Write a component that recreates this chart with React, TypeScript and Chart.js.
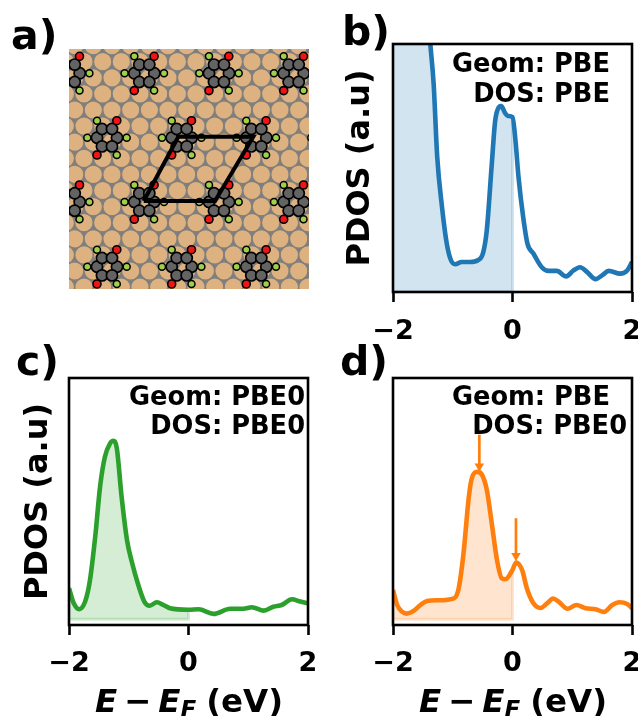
import React, { useEffect, useRef } from "react";
import { Chart, registerables } from "chart.js";

Chart.register(...registerables);

// ---- PDOS curves (energy in eV, PDOS as a fraction of the axis height) ----
const energyB = [-2, -1.7, -1.45, -1.375, -1.32, -1.26, -1.18, -1.1, -1.03, -0.96, -0.85, -0.71, -0.58, -0.49, -0.43, -0.35, -0.29, -0.23, -0.19, -0.12, -0.08, 0, 0.05, 0.1, 0.18, 0.25, 0.35, 0.49, 0.6, 0.74, 0.9, 1.02, 1.13, 1.25, 1.39, 1.5, 1.61, 1.8, 1.92, 2];
const pdosB = [4, 2.4, 1.25, 1.0, 0.84, 0.545, 0.343, 0.195, 0.128, 0.112, 0.121, 0.121, 0.128, 0.16, 0.25, 0.505, 0.69, 0.745, 0.75, 0.72, 0.71, 0.705, 0.61, 0.465, 0.3, 0.195, 0.155, 0.1, 0.085, 0.085, 0.063, 0.087, 0.1, 0.08, 0.052, 0.067, 0.085, 0.074, 0.087, 0.121];

const energyC = [-2, -1.92, -1.83, -1.73, -1.65, -1.56, -1.48, -1.4, -1.31, -1.26, -1.2, -1.12, -1.03, -0.95, -0.84, -0.74, -0.65, -0.53, -0.42, -0.31, 0, 0.17, 0.42, 0.7, 0.92, 1.06, 1.26, 1.42, 1.56, 1.73, 1.87, 2];
const pdosC = [0.149, 0.088, 0.064, 0.095, 0.18, 0.36, 0.56, 0.68, 0.736, 0.746, 0.716, 0.52, 0.345, 0.257, 0.162, 0.095, 0.078, 0.092, 0.081, 0.068, 0.062, 0.0635, 0.045, 0.066, 0.066, 0.072, 0.058, 0.074, 0.081, 0.104, 0.095, 0.088];

const energyD = [-2, -1.93, -1.85, -1.77, -1.65, -1.54, -1.43, -1.26, -0.98, -0.9, -0.82, -0.73, -0.68, -0.59, -0.51, -0.43, -0.34, -0.26, -0.18, -0.12, 0, 0.06, 0.16, 0.24, 0.35, 0.47, 0.58, 0.68, 0.77, 0.92, 1.07, 1.22, 1.39, 1.53, 1.67, 1.79, 1.92, 2];
const pdosD = [0.142, 0.081, 0.054, 0.046, 0.058, 0.081, 0.097, 0.1, 0.108, 0.149, 0.29, 0.52, 0.595, 0.62, 0.608, 0.547, 0.399, 0.264, 0.189, 0.185, 0.223, 0.253, 0.223, 0.149, 0.088, 0.069, 0.088, 0.107, 0.095, 0.066, 0.081, 0.068, 0.064, 0.053, 0.081, 0.092, 0.085, 0.068];

const xTicks = [-2, 0, 2];

// Arrows in panel d: energy, start height, tip height
const arrowEnergies = [-0.555, 0.058];
const arrowStarts = [0.77, 0.432];
const arrowTips = [0.625, 0.262];

// ---- Panel a: surface model (units: pixels of the 240 wide panel) ----
const latticeRowY = [-3.4, 12.7, 28.8, 44.9, 61, 77.1, 93.2, 109.3, 125.4, 141.5, 157.6, 173.7, 189.8, 205.9, 222, 238.1];
const latticeRowOddX = [5.7, 24.3, 43, 61.7, 80.4, 99, 117.7, 136.4, 155, 173.7, 192.4, 211, 229.7, 248.4];
const latticeRowEvenX = [-3.7, 15, 33.7, 52.3, 71, 89.7, 108.4, 127, 145.7, 164.4, 183, 201.7, 220.4, 239];

const moleculeCentreX = [0.7, 75.3, 150, 224.7, 38, 112.7, 187.3, 262, 0.7, 75.3, 150, 224.7, 38, 112.7, 187.3];
const moleculeCentreY = [24.3, 24.3, 24.3, 24.3, 88.7, 88.7, 88.7, 88.7, 153, 153, 153, 153, 217.7, 217.7, 217.7];

const carbonDX = [-10, 10, -5, 5, -5, 5];
const carbonDY = [0, 0, -8.7, -8.7, 8.7, 8.7];
const hydrogenDX = [-19.7, 19.7, -10, 9.8];
const hydrogenDY = [0, 0, -17, 17.3];
const oxygenDX = [9.8, -10];
const oxygenDY = [-17, 17.3];

const cellX = [74.7, 109.3, 184.3, 146, 74.7];
const cellY = [152, 87.7, 87.7, 152, 152];

const FONT = "'DejaVu Sans'";
const BLUE = "#1f77b4";
const GREEN = "#2ca02c";
const ORANGE = "#ff7f0e";

function rgba(hex: string, a: number) {
  const n = parseInt(hex.slice(1), 16);
  return `rgba(${(n >> 16) & 255},${(n >> 8) & 255},${n & 255},${a})`;
}

function pts(xs: number[], ys: number[]) {
  return xs.map((x, i) => ({ x, y: ys[i] }));
}

type Label = { text: string; x: number; y: number; size: number; align?: CanvasTextAlign };

function textPlugin(labels: Label[], axisTitle: null | { cx: number; y: number }, spines: boolean) {
  return {
    id: "panelText",
    afterDraw(chart: any) {
      const ctx = chart.ctx as CanvasRenderingContext2D;
      const a = chart.chartArea;
      ctx.save();
      if (spines) {
        ctx.strokeStyle = "#000";
        ctx.lineWidth = 2.6;
        ctx.strokeRect(a.left, a.top, a.right - a.left, a.bottom - a.top);
      }
      ctx.fillStyle = "#000";
      ctx.textBaseline = "alphabetic";
      for (const l of labels) {
        ctx.font = `bold ${l.size}px ${FONT}`;
        ctx.textAlign = l.align ?? "left";
        ctx.fillText(l.text, l.x, l.y);
      }
      if (axisTitle) {
        const bi = `italic bold 32.5px ${FONT}`;
        const b = `bold 32.5px ${FONT}`;
        const sub = `italic bold 23px ${FONT}`;
        const runs: [string, string, number, number][] = [
          ["E", bi, 0, 7],
          ["\u2212", b, 0, 7],
          ["E", bi, 0, 0],
          ["F", sub, 5, 10],
          ["(eV)", b, 0, 0],
        ];
        ctx.textAlign = "left";
        let w = 0;
        for (const [t, f, , gap] of runs) {
          ctx.font = f;
          w += ctx.measureText(t).width + gap;
        }
        let x = axisTitle.cx - w / 2;
        for (const [t, f, dy, gap] of runs) {
          ctx.font = f;
          ctx.fillText(t, x, axisTitle.y + dy);
          x += ctx.measureText(t).width + gap;
        }
      }
      ctx.restore();
    },
  };
}

function lineChart(
  canvas: HTMLCanvasElement,
  opts: {
    xs: number[];
    ys: number[];
    color: string;
    base: number;
    left: number;
    top: number;
    right: number;
    bottom: number;
    tickPad: number;
    yTitle: boolean;
    labels: Label[];
    axisTitle: null | { cx: number; y: number };
    extra?: any[];
  }
) {
  const { xs, ys, color, base, left, top, right, bottom } = opts;
  const curve = pts(xs, ys);
  const filled = curve.filter((p) => p.x <= 0);
  const atZero = filled[filled.length - 1].y;
  const H = canvas.height;
  const W = canvas.width;
  return new Chart(canvas, {
    type: "line",
    data: {
      datasets: [
        {
          data: curve,
          borderColor: color,
          borderWidth: 4.6,
          pointRadius: 0,
          cubicInterpolationMode: "monotone",
          fill: false,
          order: 1,
        },
        {
          data: filled,
          borderWidth: 0,
          borderColor: "transparent",
          backgroundColor: rgba(color, 0.2),
          pointRadius: 0,
          cubicInterpolationMode: "monotone",
          fill: { value: base },
          order: 4,
        },
        {
          data: [
            { x: 0, y: atZero },
            { x: 0, y: base },
            { x: -2, y: base },
          ],
          borderColor: rgba(color, 0.2),
          borderWidth: 3,
          pointRadius: 0,
          fill: false,
          order: 3,
        },
        ...(opts.extra ?? []),
      ],
    } as any,
    options: {
      animation: false,
      responsive: false,
      events: [],
      layout: { padding: { left: 0, top, right: W - right, bottom: 0 } },
      plugins: { legend: { display: false }, tooltip: { enabled: false } },
      scales: {
        x: {
          type: "linear",
          min: -2,
          max: 2,
          afterBuildTicks: (s: any) => {
            s.ticks = xTicks.map((value) => ({ value }));
          },
          afterFit: (s: any) => {
            s.height = H - bottom;
            s.paddingLeft = 0;
            s.paddingRight = 0;
          },
          grid: { drawOnChartArea: false, drawTicks: true, tickLength: 10, tickWidth: 2.6, tickColor: "#000" },
          border: { display: false },
          ticks: {
            color: "#000",
            padding: opts.tickPad,
            maxRotation: 0,
            autoSkip: false,
            font: { family: FONT, weight: "bold", size: 27 },
            callback: (v: any) => (Number(v) < 0 ? "\u2212" + Math.abs(Number(v)) : String(v)),
          },
        },
        y: {
          type: "linear",
          min: 0,
          max: 1,
          afterFit: (s: any) => {
            s.width = left;
          },
          grid: { display: false, drawTicks: false },
          border: { display: false },
          ticks: { display: false },
          title: {
            display: opts.yTitle,
            text: "PDOS (a.u)",
            color: "#000",
            font: { family: FONT, weight: "bold", size: 32 },
            padding: { top: 19, bottom: 0 },
          },
        },
      },
    } as any,
    plugins: [textPlugin(opts.labels, opts.axisTitle, true)] as any,
  });
}

function surfaceChart(canvas: HTMLCanvasElement) {
  const gold: { x: number; y: number }[] = [];
  latticeRowY.forEach((y, i) => {
    const row = i % 2 === 0 ? latticeRowOddX : latticeRowEvenX;
    row.forEach((x) => gold.push({ x, y }));
  });
  const atoms = (dx: number[], dy: number[]) => {
    const out: { x: number; y: number }[] = [];
    moleculeCentreX.forEach((cx, m) => {
      dx.forEach((d, k) => out.push({ x: cx + d, y: moleculeCentreY[m] + dy[k] }));
    });
    return out;
  };
  const dot = (data: any[], r: number, fillC: string, edge: string, bw: number, order: number) => ({
    data,
    pointRadius: r,
    pointBackgroundColor: fillC,
    pointBorderColor: edge,
    pointBorderWidth: bw,
    showLine: false,
    clip: 0,
    order,
  });
  return new Chart(canvas, {
    type: "scatter",
    data: {
      datasets: [
        {
          data: pts(cellX, cellY),
          showLine: true,
          borderColor: "#000",
          borderWidth: 4,
          pointRadius: 0,
          clip: 0,
          order: 1,
        },
        dot(atoms(oxygenDX, oxygenDY), 4, "#f01414", "#000", 1.6, 2),
        dot(atoms(hydrogenDX, hydrogenDY), 3.5, "#9ed04a", "#000", 1.5, 3),
        dot(atoms(carbonDX, carbonDY), 5.6, "#636363", "#000", 1.7, 4),
        dot(gold, 9.3, "#deb180", "#7f7f7d", 1.4, 5),
      ],
    } as any,
    options: {
      animation: false,
      responsive: false,
      events: [],
      layout: { padding: { left: 69, top: 49, right: canvas.width - 309, bottom: canvas.height - 289 } },
      plugins: { legend: { display: false }, tooltip: { enabled: false } },
      scales: {
        x: { type: "linear", min: 0, max: 240, display: false },
        y: { type: "linear", min: 0, max: 240, reverse: true, display: false },
      },
    } as any,
    plugins: [
      {
        id: "surfaceBackground",
        beforeDatasetsDraw(chart: any) {
          const a = chart.chartArea;
          chart.ctx.save();
          chart.ctx.fillStyle = "#7f7f7d";
          chart.ctx.fillRect(a.left, a.top, a.right - a.left, a.bottom - a.top);
          chart.ctx.restore();
        },
      },
      textPlugin([{ text: "a)", x: 11, y: 49, size: 41 }], null, false),
    ] as any,
  });
}

function arrowDatasets() {
  return arrowEnergies.map((x, i) => {
    const head = arrowTips[i] + 0.018;
    return {
      data: [
        { x, y: arrowStarts[i] },
        { x, y: head },
      ],
      borderColor: ORANGE,
      borderWidth: 2.7,
      pointRadius: [0, 5.5],
      pointStyle: "triangle",
      pointRotation: 180,
      pointBackgroundColor: ORANGE,
      pointBorderColor: ORANGE,
      pointBorderWidth: 0,
      fill: false,
      clip: false,
      order: 0,
    };
  });
}

const LEFT_W = 322;
const RIGHT_W = 316;
const TOP_H = 340;
const BOTTOM_H = 376;

export default function App() {
  const a = useRef<HTMLCanvasElement>(null);
  const b = useRef<HTMLCanvasElement>(null);
  const c = useRef<HTMLCanvasElement>(null);
  const d = useRef<HTMLCanvasElement>(null);

  useEffect(() => {
    const charts = [
      surfaceChart(a.current!),
      lineChart(b.current!, {
        xs: energyB,
        ys: pdosB,
        color: BLUE,
        base: 0,
        left: 71,
        top: 44,
        right: 310,
        bottom: 292,
        tickPad: 14,
        yTitle: true,
        labels: [
          { text: "b)", x: 20, y: 45, size: 41 },
          { text: "Geom: PBE", x: 288, y: 72, size: 25.7, align: "right" },
          { text: "DOS: PBE", x: 288, y: 102, size: 25.7, align: "right" },
        ],
        axisTitle: null,
      }),
      lineChart(c.current!, {
        xs: energyC,
        ys: pdosC,
        color: GREEN,
        base: 0.023,
        left: 69,
        top: 38,
        right: 308,
        bottom: 285,
        tickPad: 13,
        yTitle: true,
        labels: [
          { text: "c)", x: 16, y: 35, size: 41 },
          { text: "Geom: PBE0", x: 305, y: 65, size: 25.7, align: "right" },
          { text: "DOS: PBE0", x: 305, y: 94, size: 25.7, align: "right" },
        ],
        axisTitle: { cx: 189, y: 372 },
      }),
      lineChart(d.current!, {
        xs: energyD,
        ys: pdosD,
        color: ORANGE,
        base: 0.023,
        left: 71,
        top: 38,
        right: 310,
        bottom: 285,
        tickPad: 13,
        yTitle: false,
        labels: [
          { text: "d)", x: 18, y: 35, size: 41 },
          { text: "Geom: PBE", x: 288, y: 65, size: 25.7, align: "right" },
          { text: "DOS: PBE0", x: 305, y: 94, size: 25.7, align: "right" },
        ],
        axisTitle: { cx: 191, y: 372 },
        extra: arrowDatasets(),
      }),
    ];
    return () => charts.forEach((ch) => ch.destroy());
  }, []);

  const place = (left: number, top: number): React.CSSProperties => ({
    position: "absolute",
    left,
    top,
    display: "block",
    filter: "blur(0.4px)",
  });

  return (
    <div style={{ position: "absolute", left: 0, top: 0, width: 638, height: 716, overflow: "hidden", background: "#fff" }}>
      <canvas ref={a} width={LEFT_W} height={TOP_H} style={place(0, 0)} />
      <canvas ref={b} width={RIGHT_W} height={TOP_H} style={place(LEFT_W, 0)} />
      <canvas ref={c} width={LEFT_W} height={BOTTOM_H} style={place(0, TOP_H)} />
      <canvas ref={d} width={RIGHT_W} height={BOTTOM_H} style={place(LEFT_W, TOP_H)} />
    </div>
  );
}
